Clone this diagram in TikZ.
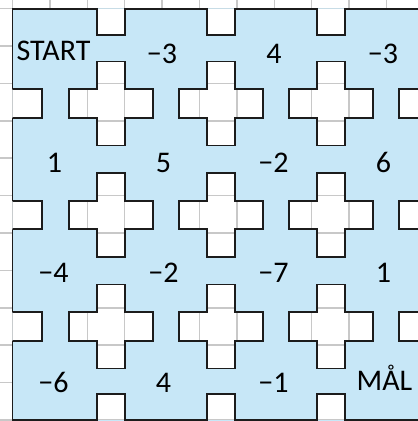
\documentclass[tikz,border=0pt]{standalone}
\usepackage{fontspec}
\setmainfont{Carlito}
\definecolor{mazeblue}{RGB}{199,231,247}
\definecolor{gridgray}{RGB}{200,200,200}
\definecolor{wallcol}{RGB}{28,28,28}
\newcommand\crs[2]{(#1-14.25,#2-42) -- (#1+14.25,#2-42) -- (#1+14.25,#2-14.25) -- (#1+42,#2-14.25) -- (#1+42,#2+14.25) -- (#1+14.25,#2+14.25) -- (#1+14.25,#2+42) -- (#1-14.25,#2+42) -- (#1-14.25,#2+14.25) -- (#1-42,#2+14.25) -- (#1-42,#2-14.25) -- (#1-14.25,#2-14.25) -- cycle}
\newcommand\lnotch[1]{(0,#1-14.25) rectangle (42,#1+14.25)}
\newcommand\allholes{%
 \crs{111}{-7} \crs{221}{-7} \crs{331}{-7}
 \crs{111}{103.5} \crs{221}{103.5} \crs{331}{103.5} \crs{441}{103.5}
 \crs{111}{215} \crs{221}{215} \crs{331}{215} \crs{441}{215}
 \crs{111}{326.5} \crs{221}{326.5} \crs{331}{326.5} \crs{441}{326.5}
 \crs{111}{436} \crs{221}{436} \crs{331}{436}
 \lnotch{103.5} \lnotch{215} \lnotch{326.5}}
\tikzset{
  wall/.style={draw=wallcol, line width=1.8pt, line join=miter},
  gridline/.style={draw=gridgray, line width=1.5pt},
  lbl/.style={font=\fontsize{30}{30}\selectfont, inner sep=0pt, anchor=base, text=black}
}
\begin{document}
\begin{tikzpicture}[x=1pt,y=-1pt]
\useasboundingbox (0,0) rectangle (418,421);
\clip (0,0) rectangle (418,421);
\fill[white] (0,0) rectangle (418,421);
% background spreadsheet grid
\foreach \k in {0,...,11} {
  \draw[gridline] ({12.5+37.4*\k},-5) -- ({12.5+37.4*\k},430);
  \draw[gridline] (-5,{8.6+37.4*\k}) -- (430,{8.6+37.4*\k});
}
% blue maze floor
\begin{scope}
  \clip (12.5,8.6) rectangle (430,420);
  \fill[mazeblue, even odd rule] (12.5,8.6) rectangle (430,420) \allholes;
  \draw[wall] \allholes;
\end{scope}
% outer border, interrupted at the notches
\begin{scope}[even odd rule]
  \clip (-50,-50) rectangle (500,500) \allholes;
  \draw[wall] (12.5,8.6) rectangle (430,420);
\end{scope}
% labels
\node[lbl] (start) at (53.5,60) {START};
\node[lbl] (r1c2) at (162,63) {−3};
\node[lbl] (r1c3) at (274,63) {4};
\node[lbl] (r1c4) at (383,63) {−3};
\node[lbl] (r2c1) at (54.5,172) {1};
\node[lbl] (r2c2) at (163.5,172) {5};
\node[lbl] (r2c3) at (273.5,172) {−2};
\node[lbl] (r2c4) at (383.5,172) {6};
\node[lbl] (r3c1) at (53.5,282) {−4};
\node[lbl] (r3c2) at (163.5,282) {−2};
\node[lbl] (r3c3) at (273.5,282) {−7};
\node[lbl] (r3c4) at (383.5,282) {1};
\node[lbl] (r4c1) at (53.5,392) {−6};
\node[lbl] (r4c2) at (163.5,392) {4};
\node[lbl] (r4c3) at (273.5,392) {−1};
\node[lbl] (goal) at (384.5,390) {MÅL};
\end{tikzpicture}
\end{document}
